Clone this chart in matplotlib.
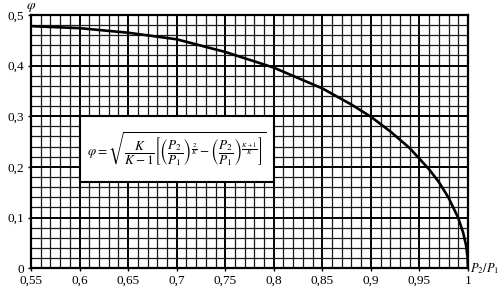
import matplotlib
matplotlib.use('Agg')
from matplotlib import pyplot as plt
from matplotlib.patches import Rectangle
import numpy as np

# values
ratio = [0.55, 0.60, 0.65, 0.70, 0.75, 0.80, 0.85, 0.88, 0.90, 0.92, 0.94,
         0.95, 0.96, 0.97, 0.98, 0.99, 0.995, 0.998, 0.9995, 1.0]
phi = [0.478, 0.474, 0.465, 0.452, 0.427, 0.396, 0.355, 0.323, 0.299, 0.270, 0.237,
       0.216, 0.195, 0.170, 0.139, 0.099, 0.070, 0.045, 0.022, 0.0]

x_ticks = [0.55, 0.6, 0.65, 0.7, 0.75, 0.8, 0.85, 0.9, 0.95, 1.0]
x_labels = ['0,55', '0,6', '0,65', '0,7', '0,75', '0,8', '0,85', '0,9', '0,95', '1']
y_ticks = [0, 0.1, 0.2, 0.3, 0.4, 0.5]
y_labels = ['0', '0,1', '0,2', '0,3', '0,4', '0,5']

plt.rcParams['font.family'] = ['Liberation Serif', 'DejaVu Serif']
plt.rcParams['mathtext.fontset'] = 'stix'

fig = plt.figure(figsize=(5, 2.94), dpi=100)
ax = fig.add_axes([0.062, 0.088, 0.874, 0.861])

ax.set_xlim(0.55, 1.0)
ax.set_ylim(0, 0.5)
ax.set_xticks(x_ticks)
ax.set_xticklabels(x_labels, fontsize=9.5)
ax.set_yticks(y_ticks)
ax.set_yticklabels(y_labels, fontsize=9.5)
ax.set_xticks(np.arange(0.55, 1.0001, 0.01), minor=True)
ax.set_yticks(np.arange(0, 0.5001, 0.02), minor=True)
ax.tick_params(which='major', length=2, width=1, pad=3, color='black')
ax.tick_params(which='minor', length=0)

ax.grid(which='minor', color='#1a1a1a', lw=0.9)
ax.grid(which='major', color='black', lw=1.4)
ax.set_axisbelow(True)
for s in ax.spines.values():
    s.set_linewidth(1.6)

# white formula panel over the grid
box = Rectangle((0.6, 0.17), 0.2, 0.13, facecolor='white', edgecolor='black',
                lw=1.5, zorder=2)
ax.add_patch(box)
ax.text(0.7, 0.235,
        r'$\varphi = \sqrt{\dfrac{K}{K-1}\left[\left(\dfrac{P_2}{P_1}\right)^{\frac{2}{K}}'
        r' - \left(\dfrac{P_2}{P_1}\right)^{\frac{K+1}{K}}\right]}$',
        ha='center', va='center', fontsize=9.5, zorder=3)

ax.plot(ratio, phi, color='black', lw=1.9, zorder=4, solid_capstyle='butt')

fig.text(0.062, 0.975, r'$\varphi$', ha='center', va='center', fontsize=10)
fig.text(0.941, 0.088, r'$P_2/P_1$', ha='left', va='center', fontsize=9)

fig.savefig('out.png', dpi=100, facecolor='white')
